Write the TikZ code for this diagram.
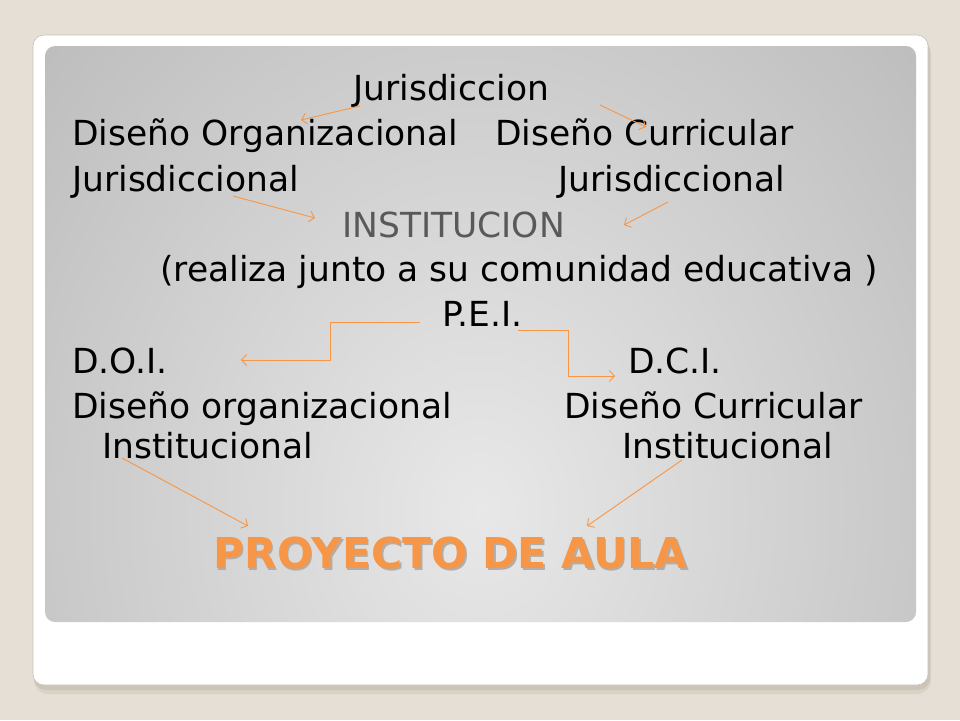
\documentclass[tikz,border=0pt]{standalone}
\usepackage{fontspec}
\setmainfont{DejaVu Sans}
\usetikzlibrary{arrows.meta}
\definecolor{bgbeige}{HTML}{E6DFD5}
\definecolor{cardshadow}{HTML}{A89C8C}
\definecolor{cardedge}{HTML}{C9C1B6}
\definecolor{orng}{HTML}{F79646}
\definecolor{pshadow}{HTML}{B2ADA8}
\definecolor{instgray}{HTML}{595959}
\definecolor{slidein}{HTML}{E8E8E8}
\definecolor{slideout}{HTML}{A2A2A2}
\begin{document}
\begin{tikzpicture}[x=1pt,y=-1pt,
  txt/.style={font=\fontsize{34.5}{40}\selectfont, inner sep=0pt, anchor=base west, text=black},
  ptxt/.style={font=\bfseries\fontsize{42.5}{48}\selectfont, inner sep=0pt, anchor=base west, text=orng},
  conn/.style={draw=orng, line width=0.9pt, -{Straight Barb[length=5pt,width=11pt]}},
]
\useasboundingbox (0,0) rectangle (960,720);
\fill[bgbeige] (0,0) rectangle (960,720);
% card shadow
\fill[cardshadow, opacity=0.18, rounded corners=14] (34,40) rectangle (931,694);
\fill[cardshadow, opacity=0.25, rounded corners=12] (34,38) rectangle (930,690);
% card
\fill[white, draw=cardedge, line width=0.6pt, rounded corners=11] (33,35) rectangle (928,685);
% gradient panel
\begin{scope}
  \clip[rounded corners=10] (45,46) rectangle (916,622);
  \shade[inner color=slidein, outer color=slideout] (480,510) ellipse (960 and 1150);
\end{scope}

% texts
\node[txt] (jur) at (353,100) {Jurisdiccion};
\node[txt] (dor) at (72,145.5) {Diseño Organizacional};
\node[txt] (dcu) at (495,145.5) {Diseño Curricular};
\node[txt] (jl) at (72,191.5) {Jurisdiccional};
\node[txt] (jr) at (558,191.5) {Jurisdiccional};
\node[txt, text=instgray] (inst) at (342,237) {INSTITUCION};
\node[txt] (real) at (160,281) {(realiza junto a su comunidad educativa )};
\node[txt] (pei) at (442,326.5) {P.E.I.};
\node[txt] (doi) at (72,373) {D.O.I.};
\node[txt] (dci) at (628,373) {D.C.I.};
\node[txt] (dorg) at (72,418.5) {Diseño organizacional};
\node[txt] (dcur) at (564,418.5) {Diseño Curricular};
\node[txt] (il) at (102,458.5) {Institucional};
\node[txt] (ir) at (622,458.5) {Institucional};
\node[ptxt] (pda) at (213,568) {\rlap{\kern1.5pt\raisebox{-2pt}{\color{pshadow}PROYECTO DE AULA}}PROYECTO DE AULA};

% connector end points
\coordinate (a1s) at (360,106);  \coordinate (a1e) at (301,120);
\coordinate (a2s) at (600,105);  \coordinate (a2e) at (646,127);
\coordinate (a3s) at (233,196);  \coordinate (a3e) at (315,218);
\coordinate (a4s) at (668,202);  \coordinate (a4e) at (624,225);
\coordinate (a5s) at (420,322);  \coordinate (a5e) at (241,360);
\coordinate (a6s) at (518,330);  \coordinate (a6e) at (615,376);
\coordinate (a7s) at (122,458);  \coordinate (a7e) at (248,526);
\coordinate (a8s) at (682,460);  \coordinate (a8e) at (587,526);

\draw[conn] (a1s) -- (a1e);
\draw[conn] (a2s) -- (a2e);
\draw[conn] (a3s) -- (a3e);
\draw[conn] (a4s) -- (a4e);
\draw[conn] (a5s) -- (330,322) -- (330,360) -- (a5e);
\draw[conn] (a6s) -- (568,330) -- (568,376) -- (a6e);
\draw[conn] (a7s) -- (a7e);
\draw[conn] (a8s) -- (a8e);
\end{tikzpicture}
\end{document}
